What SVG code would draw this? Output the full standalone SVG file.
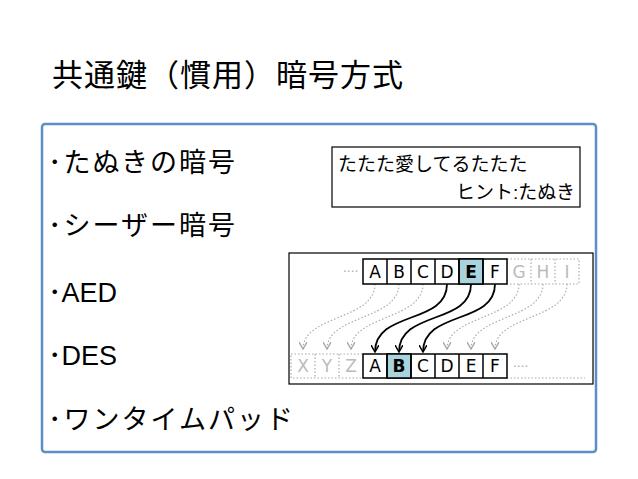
<svg xmlns="http://www.w3.org/2000/svg" width="638" height="479" viewBox="0 0 638 479">
<style>
.t{font-family:"Liberation Sans","Noto Sans CJK JP",sans-serif;fill:#000}
.g{fill:none;stroke:#aaa;stroke-width:1.2;stroke-dasharray:1.5 2}
.l{font-family:"DejaVu Sans",sans-serif;font-size:17px;text-anchor:middle}
</style>
<defs>
<marker id="a" markerWidth="8" markerHeight="8" refX="7" refY="4" orient="auto" markerUnits="userSpaceOnUse" viewBox="0 0 8 8"><path d="M0,0 L7,4 L0,8" fill="none" stroke="#000" stroke-width="1.5"/></marker>
<marker id="ag" markerWidth="8" markerHeight="8" refX="7" refY="4" orient="auto" markerUnits="userSpaceOnUse" viewBox="0 0 8 8"><path d="M0,0 L7,4 L0,8" fill="none" stroke="#aaa" stroke-width="1.5"/></marker>
</defs>
<rect width="638" height="479" fill="#fff"/>
<text class="t" x="52" y="86" font-size="31" letter-spacing="1">共通鍵（慣用）暗号方式</text>
<rect x="42" y="124" width="554" height="328" rx="3" fill="none" stroke="#5b8fc7" stroke-width="2.5"/>
<g id="items" class="t" font-size="27" letter-spacing="2">
<text x="48" y="172">･たぬきの暗号</text>
<text x="48" y="235">･シーザー暗号</text>
<text x="48" y="302" letter-spacing="0">･AED</text>
<text x="48" y="365" letter-spacing="0">･DES</text>
<text x="48" y="429">･ワンタイムパッド</text>
</g>
<g id="hint">
<rect x="332" y="147" width="248" height="60" fill="#fff" stroke="#000" stroke-width="1.2"/>
<text class="t" x="338" y="171" font-size="19">たたた愛してるたたた</text>
<text class="t" x="575" y="199" font-size="19" text-anchor="end">ヒント:たぬき</text>
</g>
<g id="caesar">
<rect x="289" y="253" width="304" height="131" fill="#fff" stroke="#000" stroke-width="1.2"/>
<g id="connectors">
<path class="g" d="M375,284 C375,320 303,315 303,349" marker-end="url(#ag)"/>
<path class="g" d="M399,284 C399,320 327,315 327,349" marker-end="url(#ag)"/>
<path class="g" d="M423,284 C423,320 351,315 351,349" marker-end="url(#ag)"/>
<path class="g" d="M519,284 C519,320 447,315 447,349" marker-end="url(#ag)"/>
<path class="g" d="M543,284 C543,320 471,315 471,349" marker-end="url(#ag)"/>
<path class="g" d="M567,284 C567,320 495,315 495,349" marker-end="url(#ag)"/>
<path d="M447,284 C447,325 375,310 375,352" fill="none" stroke="#000" stroke-width="1.8" marker-end="url(#a)"/>
<path d="M471,284 C471,325 399,310 399,352" fill="none" stroke="#000" stroke-width="1.8" marker-end="url(#a)"/>
<path d="M495,284 C495,325 423,310 423,352" fill="none" stroke="#000" stroke-width="1.8" marker-end="url(#a)"/>
</g>
<text x="343" y="276" fill="#aaa" font-size="12" font-family="DejaVu Sans">····</text>
<rect x="507" y="259" width="72" height="25" class="g"/>
<line x1="531" y1="259" x2="531" y2="284" class="g"/><line x1="555" y1="259" x2="555" y2="284" class="g"/>
<rect x="291" y="354" width="72" height="24" class="g"/>
<line x1="315" y1="354" x2="315" y2="378" class="g"/><line x1="339" y1="354" x2="339" y2="378" class="g"/>
<line x1="507" y1="378" x2="585" y2="378" class="g"/>
<text x="513" y="371" fill="#aaa" font-size="12" font-family="DejaVu Sans">····</text>
<g fill="#fff" stroke="#000" stroke-width="1.5">
<rect x="363" y="259" width="144" height="25"/>
<rect x="459" y="259" width="24" height="25" fill="#a9d4de"/>
<path d="M387,259V284M411,259V284M435,259V284M459,259V284M483,259V284"/>
<rect x="363" y="354" width="144" height="24"/>
<rect x="387" y="354" width="24" height="24" fill="#a9d4de"/>
<path d="M387,354V378M411,354V378M435,354V378M459,354V378M483,354V378"/>
</g>
<g class="l">
<text x="375" y="278">A</text><text x="399" y="278">B</text><text x="423" y="278">C</text><text x="447" y="278">D</text><text x="471" y="278" font-weight="bold">E</text><text x="495" y="278">F</text>
<text x="519" y="278" fill="#bbb">G</text><text x="543" y="278" fill="#bbb">H</text><text x="567" y="278" fill="#bbb">I</text>
<text x="303" y="372" fill="#bbb">X</text><text x="327" y="372" fill="#bbb">Y</text><text x="351" y="372" fill="#bbb">Z</text>
<text x="375" y="372">A</text><text x="399" y="372" font-weight="bold">B</text><text x="423" y="372">C</text><text x="447" y="372">D</text><text x="471" y="372">E</text><text x="495" y="372">F</text>
</g>
</g>
</svg>
